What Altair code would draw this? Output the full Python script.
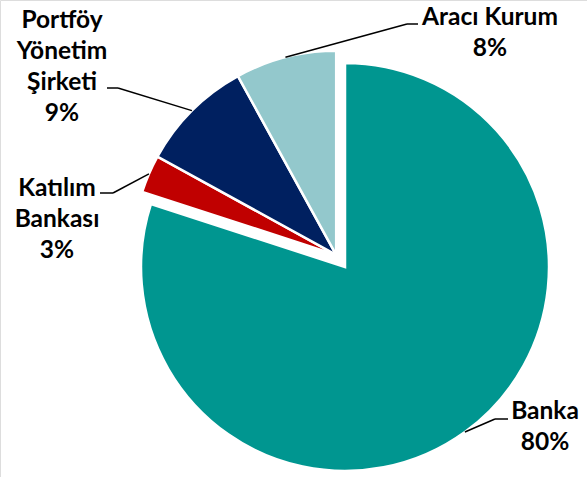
import math
import altair as alt
import pandas as pd

# ---- data ----
categories = ["Banka", "Katılım Bankası", "Portföy Yönetim Şirketi", "Aracı Kurum"]
shares = [80, 3, 9, 8]
name_lines = [["Banka"], ["Katılım", "Bankası"], ["Portföy", "Yönetim", "Şirketi"], ["Aracı Kurum"]]
colors = ["#009690", "#C00000", "#002060", "#93C8CC"]

# ---- layout (pixels) ----
CX, CY, R = 345, 267, 204
EXPLODE = 15
FONT = "Lato"
FONT_SIZE = 24.5
LINE_H = 31
label_xy = [(545, 412), (57, 189), (62, 21), (490, 18)]   # first-line centres
elbow_xy = [(495, 419), (113, 193), (118, 88), (407, 24)]
tail_x = [508, 100, 107, 418]

total = sum(shares)
# group (non-Banka slices) is pulled out along its bisector
grp_start = shares[0] / total
grp_mid = (grp_start + 1) / 2 * 2 * math.pi
odx = EXPLODE * math.sin(grp_mid)
ody = -EXPLODE * math.cos(grp_mid)

rows = []
cum = 0
for i, (c, v) in enumerate(zip(categories, shares)):
    mid = (cum + v / 2) / total * 2 * math.pi
    cum += v
    cx = CX + (0 if i == 0 else odx)
    cy = CY + (0 if i == 0 else ody)
    rows.append(
        dict(
            cat=c, value=v, idx=i, cx=cx, cy=cy,
            label="\n".join(name_lines[i] + [f"{v}%"]),
            lx=label_xy[i][0], ly=label_xy[i][1],
            sx=cx + R * math.sin(mid), sy=cy - R * math.cos(mid),
        )
    )
df = pd.DataFrame(rows)

segs = []
for i, r in df.iterrows():
    ex, ey = elbow_xy[i]
    segs.append(dict(x=r.sx, y=r.sy, x2=ex, y2=ey))
    segs.append(dict(x=ex, y=ey, x2=tail_x[i], y2=ey))
seg_df = pd.DataFrame(segs)

pie = alt.Chart(df).mark_arc(outerRadius=R, stroke="white", strokeWidth=2.5).encode(
    theta=alt.Theta("value:Q", stack=True),
    order=alt.Order("idx:Q"),
    color=alt.Color("cat:N", scale=alt.Scale(domain=categories, range=colors), legend=None),
    x=alt.X("cx:Q", scale=None),
    y=alt.Y("cy:Q", scale=None),
)

leaders = alt.Chart(seg_df).mark_rule(color="black", strokeWidth=1.5).encode(
    x=alt.X("x:Q", scale=None),
    y=alt.Y("y:Q", scale=None),
    x2="x2:Q",
    y2="y2:Q",
)

labels = alt.Chart(df).mark_text(
    font=FONT, fontSize=FONT_SIZE, fontWeight="bold", color="black",
    align="center", baseline="middle", lineBreak="\n", lineHeight=LINE_H,
).encode(
    x=alt.X("lx:Q", scale=None),
    y=alt.Y("ly:Q", scale=None),
    text="label:N",
)

chart = (
    alt.layer(pie, leaders, labels)
    .properties(width=587, height=477, padding=0, autosize=alt.AutoSizeParams(type="none"))
    .configure_view(stroke=None)
    .configure(background="white")
)

chart.save("out.html", embed_options={"renderer": "svg", "actions": False})
